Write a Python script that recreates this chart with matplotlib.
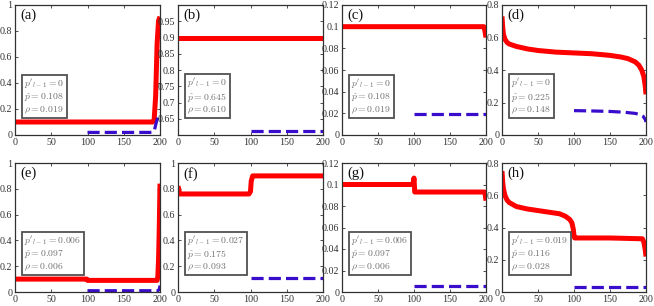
import numpy as np
import matplotlib
matplotlib.use('Agg')
import matplotlib.pyplot as plt

plt.rcParams['font.family'] = ['Liberation Serif', 'DejaVu Serif']
plt.rcParams['mathtext.fontset'] = 'cm'

# red curves (x, y)
a_x = [0, 190, 192, 194, 196, 198, 200]
a_y = [0.1, 0.1, 0.12, 0.3, 0.7, 0.88, 0.91]
b_x = [0, 200]
b_y = [0.9, 0.9]
c_x = [0, 197, 198, 200]
c_y = [0.1, 0.1, 0.098, 0.09]
d_x = [0, 1, 2, 4, 7, 10, 20, 35, 50, 75, 100, 125, 150, 165, 175, 185, 190, 194, 197, 199, 200]
d_y = [0.73, 0.66, 0.62, 0.59, 0.57, 0.56, 0.545, 0.53, 0.52, 0.51, 0.505, 0.5, 0.49, 0.48, 0.47, 0.45, 0.43, 0.40, 0.36, 0.3, 0.25]
e_x = [0, 99, 100, 196, 197, 198, 199, 200]
e_y = [0.1, 0.1, 0.09, 0.09, 0.12, 0.25, 0.5, 0.84]
f_x = [0, 1, 2, 98, 100, 101, 103, 200]
f_y = [0.82, 0.8, 0.76, 0.76, 0.78, 0.86, 0.9, 0.9]
g_x = [0, 98, 99, 100, 101, 198, 199, 200]
g_y = [0.1, 0.1, 0.102, 0.106, 0.093, 0.093, 0.09, 0.085]
h_x = [0, 1, 2, 4, 7, 10, 20, 35, 50, 65, 80, 88, 94, 97, 99, 100, 101, 150, 195, 197, 199, 200]
h_y = [0.75, 0.68, 0.64, 0.6, 0.57, 0.555, 0.53, 0.515, 0.505, 0.495, 0.485, 0.47, 0.45, 0.43, 0.39, 0.35, 0.335, 0.335, 0.33, 0.31, 0.26, 0.22]

# blue dashed curves
ab_x = [100, 190, 192, 195, 198, 200]
ab_y = [0.02, 0.02, 0.03, 0.1, 0.15, 0.17]
bb_x = [100, 200]
bb_y = [0.611, 0.611]
cb_x = [100, 200]
cb_y = [0.019, 0.019]
db_x = [100, 125, 150, 170, 185, 192, 196, 199, 200]
db_y = [0.15, 0.148, 0.145, 0.14, 0.133, 0.125, 0.115, 0.095, 0.08]
eb_x = [100, 197, 199, 200]
eb_y = [0.01, 0.01, 0.02, 0.05]
fb_x = [100, 200]
fb_y = [0.11, 0.11]
gb_x = [100, 200]
gb_y = [0.006, 0.006]
hb_x = [100, 200]
hb_y = [0.028, 0.028]

labels = ['(a)', '(b)', '(c)', '(d)', '(e)', '(f)', '(g)', '(h)']
p_prev = ['0', '0', '0', '0', '0.006', '0.027', '0.006', '0.019']
p_hat = ['0.108', '0.645', '0.108', '0.225', '0.097', '0.175', '0.097', '0.116']
rho = ['0.019', '0.610', '0.019', '0.148', '0.006', '0.093', '0.006', '0.028']

reds = [(a_x, a_y), (b_x, b_y), (c_x, c_y), (d_x, d_y),
        (e_x, e_y), (f_x, f_y), (g_x, g_y), (h_x, h_y)]
blues = [(ab_x, ab_y), (bb_x, bb_y), (cb_x, cb_y), (db_x, db_y),
         (eb_x, eb_y), (fb_x, fb_y), (gb_x, gb_y), (hb_x, hb_y)]

ylims = [(0, 1), (0.6, 1.0), (0, 0.12), (0, 0.8),
         (0, 1), (0, 1), (0, 0.12), (0, 0.8)]
yticks = [[0, 0.2, 0.4, 0.6, 0.8, 1],
          [0.65, 0.7, 0.75, 0.8, 0.85, 0.9, 0.95],
          [0, 0.02, 0.04, 0.06, 0.08, 0.1, 0.12],
          [0, 0.2, 0.4, 0.6, 0.8],
          [0, 0.2, 0.4, 0.6, 0.8, 1],
          [0, 0.2, 0.4, 0.6, 0.8, 1],
          [0, 0.02, 0.04, 0.06, 0.08, 0.1, 0.12],
          [0, 0.2, 0.4, 0.6, 0.8]]

W, H = 654, 306
lefts = [15, 178, 342, 502]
widths = [145, 145, 144, 144]
rows = [(5, 135), (163, 292)]

fig = plt.figure(figsize=(W / 100, H / 100), dpi=100)
red = '#ff0000'
blue = '#3a0ccc'
spine_c = '#303030'

for i in range(8):
    r, c = divmod(i, 4)
    top, bot = rows[r]
    ax = fig.add_axes([lefts[c] / W, 1 - bot / H, widths[c] / W, (bot - top) / H])
    ax.plot(*reds[i], color=red, lw=3.6, solid_capstyle='butt', solid_joinstyle='round')
    ax.plot(*blues[i], color=blue, lw=2.3, dashes=(3.8, 1.6))
    ax.set_xlim(0, 200)
    ax.set_ylim(*ylims[i])
    ax.set_xticks([0, 50, 100, 150, 200])
    ax.set_yticks(yticks[i])
    ax.set_yticklabels([f'{t:g}' for t in yticks[i]])
    ax.tick_params(direction='in', top=True, right=True, length=2.5, width=0.6,
                   labelsize=7.2, pad=2, colors=spine_c)
    for s in ax.spines.values():
        s.set_color(spine_c)
        s.set_linewidth(0.9)
    ax.text(0.035, 0.97, labels[i], transform=ax.transAxes, ha='left', va='top',
            fontsize=10.5, color='#111111')
    txt = (rf"$p'_{{l-1}}={p_prev[i]}$" + '\n' + rf"$\hat{{p}}={p_hat[i]}$" + '\n' +
           rf"$\rho={rho[i]}$")
    ax.text(0.065, 0.15, txt, transform=ax.transAxes, ha='left', va='bottom',
            fontsize=7, color='#707070', linespacing=1.05,
            bbox=dict(boxstyle='square,pad=0.25', fc='white', ec='#505050', lw=1.3))

fig.savefig('out.png', dpi=100)
